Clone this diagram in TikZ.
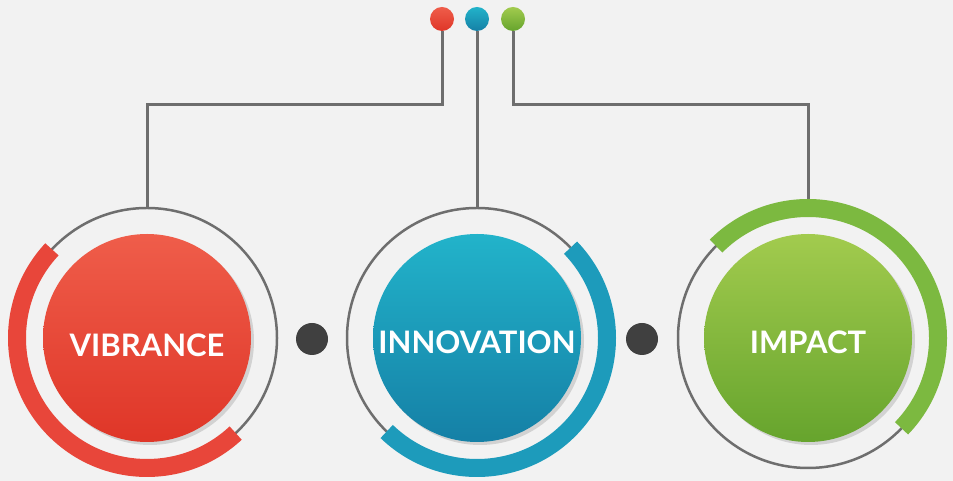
\documentclass[tikz,border=0pt]{standalone}
\usepackage{fontspec}
\newfontfamily\labelfont{Lato}
\usetikzlibrary{shadows}

\definecolor{bgpaper}{HTML}{F2F2F2}
\definecolor{wire}{HTML}{6E6E6E}
\definecolor{knob}{HTML}{404040}
\definecolor{redlight}{HTML}{EF5D4A}
\definecolor{reddark}{HTML}{DF3628}
\definecolor{redarc}{HTML}{E8463A}
\definecolor{bluelight}{HTML}{22B3CA}
\definecolor{bluedark}{HTML}{1580A6}
\definecolor{bluearc}{HTML}{1D9BBB}
\definecolor{greenlight}{HTML}{A2CB4E}
\definecolor{greendark}{HTML}{66A42D}
\definecolor{greenarc}{HTML}{7CB940}

\tikzset{
  disk/.style={circle, minimum size=208pt, inner sep=0pt, shading=axis, shading angle=45,
    text=white, font=\labelfont\bfseries\fontsize{31}{31}\selectfont,
    drop shadow={shadow xshift=3pt, shadow yshift=-3pt, opacity=0.13, fill=black}},
  ring/.style={circle, draw=wire, line width=2.5pt, minimum size=260pt, inner sep=0pt},
  band/.style={line width=18pt},
  pin/.style={circle, minimum size=24pt, inner sep=0pt, shading=axis, shading angle=45},
  knobdot/.style={circle, fill=knob, minimum size=32pt, inner sep=0pt},
  wireline/.style={draw=wire, line width=3pt}
}

\begin{document}
\begin{tikzpicture}[x=1pt, y=1pt]
    % paper
    \fill[bgpaper] (0,0) rectangle (953,481);
    \useasboundingbox (0,0) rectangle (953,481);

    % thin rings
    \node[ring] (rv) at (147,143) {};
    \node[ring] (ri) at (477,143) {};
    \node[ring] (rm) at (808,143) {};

    % the three pins on top
    \node[pin, top color=redlight, bottom color=reddark] (pv) at (442,462) {};
    \node[pin, top color=bluelight, bottom color=bluedark] (pi) at (477,462) {};
    \node[pin, top color=greenlight, bottom color=greendark] (pm) at (513,462) {};

    % connectors
    \coordinate (jv) at (147,376);
    \coordinate (jm) at (808,376);
    \draw[wireline] (pv.south) |- (jv) -- (rv.north);
    \draw[wireline] (pi.south) -- (ri.north);
    \draw[wireline] (pm.south) |- (jm) -- (rm.north);

    % coloured bands on the rings
    \draw[band, draw=redarc] ([shift={(137:130)}]rv.center) arc[start angle=137, end angle=313, radius=130];
    \draw[band, draw=bluearc] ([shift={(-134:130)}]ri.center) arc[start angle=-134, end angle=44, radius=130];
    \draw[band, draw=greenarc] ([shift={(-44:130)}]rm.center) arc[start angle=-44, end angle=135, radius=130];

    % main disks
    \node[disk, top color=redlight, bottom color=reddark] (vib) at (rv.center) {\raisebox{-19pt}[0pt][0pt]{VIBRANCE}};
    \node[disk, top color=bluelight, bottom color=bluedark] (inn) at (ri.center) {\raisebox{-16pt}[0pt][0pt]{INNOVATION}};
    \node[disk, top color=greenlight, bottom color=greendark] (imp) at (rm.center) {\raisebox{-16pt}[0pt][0pt]{IMPACT}};

    % dark dots between the rings
    \node[knobdot] (ka) at (312,142) {};
    \node[knobdot] (kb) at (642,142) {};
\end{tikzpicture}
\end{document}
